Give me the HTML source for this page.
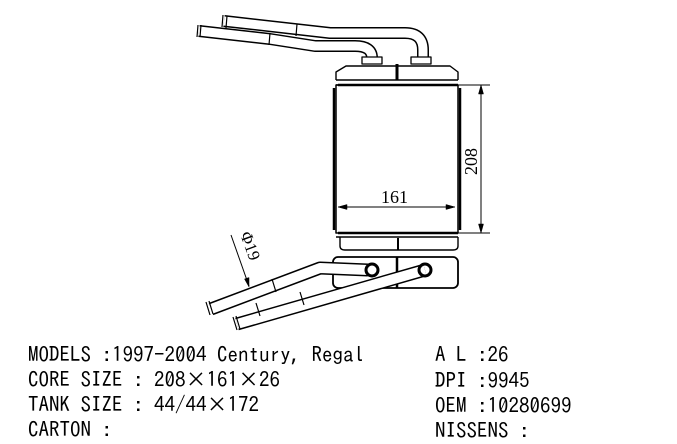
<!DOCTYPE html>
<html><head><meta charset="utf-8"><style>
html,body{margin:0;padding:0;background:#fff;width:677px;height:444px;overflow:hidden}
.t{position:absolute;font-family:"IPAGothic","Liberation Mono",monospace;font-size:21px;color:#000;white-space:pre;line-height:21px}
</style></head><body>
<svg width="677" height="444" style="position:absolute;left:0;top:0" xmlns="http://www.w3.org/2000/svg">
<g fill="none" stroke="#000" stroke-linejoin="round" stroke-linecap="butt">
<!-- top pipes -->
<path d="M224,21 L330,33 L405,33 Q423,33 423,50 L423,60" stroke-width="12"/>
<path d="M224,21 L330,33 L405,33 Q423,33 423,50 L423,60" stroke="#fff" stroke-width="9"/>
<path d="M199,31 L270,39 L315,46 L355,46 Q372,46 372,58 L372,60" stroke-width="12"/>
<path d="M199,31 L270,39 L315,46 L355,46 Q372,46 372,58 L372,60" stroke="#fff" stroke-width="9"/>
<path d="M223,15 l-1,12 M227,16 l-1,12 M198,25 l-1,12 M201,25 l-1,12 M297,24 l-1,12 M270,33 l-1,12" stroke-width="1.2"/>
<rect x="362" y="57" width="20" height="7" stroke-width="1.3" fill="#fff"/>
<rect x="411" y="57" width="20" height="7" stroke-width="1.3" fill="#fff"/>
<!-- top tank -->
<path d="M336,80 L336,72 L346,66 L450,66 L458,72 L458,80" stroke-width="1.4"/>
<path d="M336,80 L458,80 M336,85 L458,85" stroke-width="1.4"/>
<line x1="397" y1="64" x2="397" y2="80" stroke-width="3"/>
<!-- core -->
<rect x="336" y="85" width="122" height="148" stroke-width="1.5"/>
<line x1="338" y1="85" x2="458" y2="85" stroke-width="2.5"/>
<line x1="338" y1="233" x2="458" y2="233" stroke-width="2.5"/>
<path d="M334,88 L334,230 M460,88 L460,230" stroke-width="2.5"/>
<!-- bottom tank -->
<path d="M336,237 L458,237 M340,237 L340,246 Q340,250 345,250 L453,250 Q458,250 458,246 L458,237" stroke-width="1.4"/>
<line x1="398" y1="238" x2="398" y2="250" stroke-width="2"/>
<!-- bottom plate -->
<rect x="333" y="257" width="125" height="31" rx="5" stroke-width="1.8"/>
<line x1="397" y1="257" x2="397" y2="288" stroke-width="2.5"/>
<!-- dims -->
<path d="M458,85 L490,85 M458,233 L490,233 M481,85 L481,233" stroke-width="1"/>
<path d="M481,85 l-2.5,9 l5,0 z M481,233 l-2.5,-9 l5,0 z M338,207 l9,-2.5 l0,5 z M455,207 l-9,-2.5 l0,5 z" fill="#000" stroke-width="0.5"/>
<line x1="338" y1="207" x2="455" y2="207" stroke-width="1"/>
<!-- bottom pipes -->
<path d="M237,324 L425,270" stroke-width="13"/>
<path d="M237,324 L425,270" stroke="#fff" stroke-width="10"/>
<path d="M211,309 L320,268 L368,270" stroke-width="13"/>
<path d="M211,309 L320,268 L368,270" stroke="#fff" stroke-width="10"/>
<circle cx="372" cy="270" r="6" stroke-width="3"/>
<circle cx="425" cy="270" r="6" stroke-width="3"/>
<path d="M206,302 l4,13 M209,301 l4,13 M233,317 l4,13 M236,316 l4,13 M272,279 l4,13 M300,292 l4,13 M256,303 l4,13" stroke-width="1.2"/>
<!-- phi leader -->
<line x1="231" y1="235" x2="249" y2="286" stroke-width="1"/>
<path d="M249,287 l-4.5,-8 l4.5,-1.5 z" fill="#000" stroke-width="0.5"/>
</g>
<text x="0" y="0" transform="translate(477,175) rotate(-90)" font-family="Liberation Serif,serif" font-size="18" fill="#000">208</text>
<text x="381" y="203" font-family="Liberation Serif,serif" font-size="18" fill="#000">161</text>
<text x="0" y="0" transform="translate(240,234) rotate(70)" font-family="Liberation Serif,serif" font-size="17" fill="#000">Φ19</text>
</svg>
<div class="t" style="left:28px;top:344px">MODELS :1997-2004 Century, Regal</div>
<div class="t" style="left:28px;top:369px">CORE SIZE : 208×161×26</div>
<div class="t" style="left:28px;top:394px">TANK SIZE : 44/44×172</div>
<div class="t" style="left:28px;top:419px">CARTON :</div>
<div class="t" style="left:435px;top:344px">A L :26</div>
<div class="t" style="left:435px;top:370px">DPI :9945</div>
<div class="t" style="left:435px;top:395px">OEM :10280699</div>
<div class="t" style="left:435px;top:420px">NISSENS :</div>
</body></html>
